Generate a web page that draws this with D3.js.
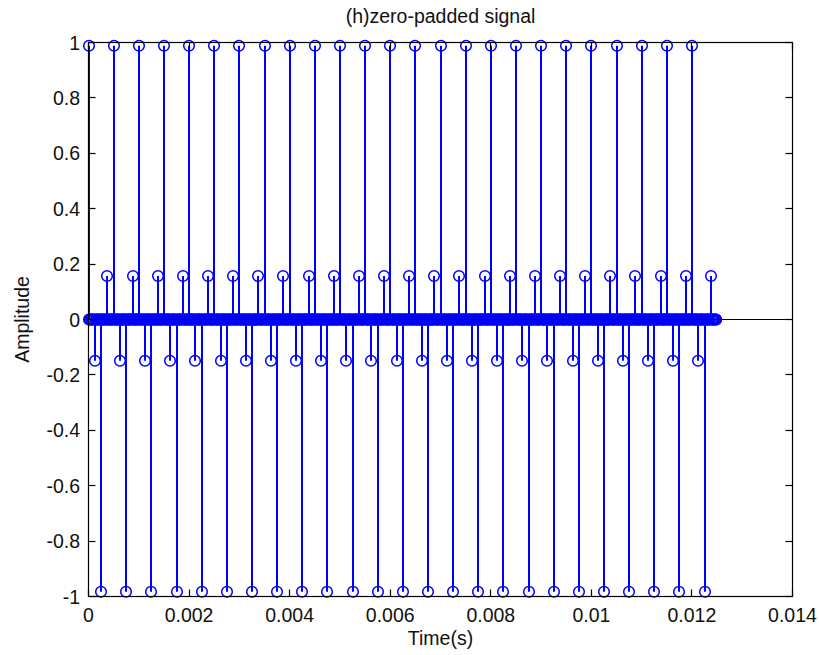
<!DOCTYPE html>
<meta charset="utf-8">
<style>
  body { margin: 0; background: #fff; }
  svg text { font-family: "Liberation Sans", Arial, sans-serif; fill: #111; }
</style>
<script src="https://d3js.org/d3.v7.min.js"></script>
<body>
<script>

// original samples (one every 8th point of the padded signal)
var samples = [
  0.988, -0.149, -0.983, 0.157,  0.988, -0.149, -0.983, 0.157,
  0.988, -0.149, -0.983, 0.157,  0.988, -0.149, -0.983, 0.157,
  0.988, -0.149, -0.983, 0.157,  0.988, -0.149, -0.983, 0.157,
  0.988, -0.149, -0.983, 0.157,  0.988, -0.149, -0.983, 0.157,
  0.988, -0.149, -0.983, 0.157,  0.988, -0.149, -0.983, 0.157,
  0.988, -0.149, -0.983, 0.157,  0.988, -0.149, -0.983, 0.157,
  0.988, -0.149, -0.983, 0.157,  0.988, -0.149, -0.983, 0.157,
  0.988, -0.149, -0.983, 0.157,  0.988, -0.149, -0.983, 0.157,
  0.988, -0.149, -0.983, 0.157,  0.988, -0.149, -0.983, 0.157,
  0.988, -0.149, -0.983, 0.157,  0.988, -0.149, -0.983, 0.157,
  0.988, -0.149, -0.983, 0.157,  0.988, -0.149, -0.983, 0.157,
  0.988, -0.149, -0.983, 0.157,  0.988, -0.149, -0.983, 0.157,
  0.988, -0.149, -0.983, 0.157
]
var padFactor = 8          // zeros stuffed between samples
var fsPadded = 64000       // sample rate after padding (Hz)

var xTicks = [0, 0.002, 0.004, 0.006, 0.008, 0.01, 0.012, 0.014]
var xTickLabels = ["0", "0.002", "0.004", "0.006", "0.008", "0.01", "0.012", "0.014"]
var yTicks = [-1, -0.8, -0.6, -0.4, -0.2, 0, 0.2, 0.4, 0.6, 0.8, 1]
var yTickLabels = ["-1", "-0.8", "-0.6", "-0.4", "-0.2", "0", "0.2", "0.4", "0.6", "0.8", "1"]

// build padded signal: each sample followed by padFactor-1 zeros
var padded = []
samples.forEach(function(v, i) {
  for (var k = 0; k < padFactor; k++) {
    var n = i * padFactor + k
    padded.push({ t: n / fsPadded, v: k === 0 ? v : 0 })
  }
})

var W = 819, H = 655
var plotL = 88.5, plotR = 792.5, plotT = 42.5, plotB = 596.5
var fontSize = 19.5
var tickLen = 7

var x = d3.scaleLinear().domain([0, 0.014]).range([plotL, plotR])
var y = d3.scaleLinear().domain([-1, 1]).range([plotB, plotT])

// snap to the pixel grid so lines stay crisp
function px(v) { return Math.round(v - 0.5) + 0.5 }

var svg = d3.select("body").append("svg")
    .attr("width", W)
    .attr("height", H)

// stems
var stems = svg.append("g")
stems.selectAll("line")
    .data(padded)
    .enter()
    .append("line")
    .attr("x1", function(d) { return Math.round(x(d.t)) })
    .attr("x2", function(d) { return Math.round(x(d.t)) })
    .attr("y1", y(0))
    .attr("y2", function(d) { return y(d.v) })
    .attr("stroke", "#0000ff")
    .attr("stroke-width", 2)

// markers
stems.selectAll("circle")
    .data(padded)
    .enter()
    .append("circle")
    .attr("cx", function(d) { return Math.round(x(d.t)) })
    .attr("cy", function(d) { return y(d.v) })
    .attr("r", 5.3)
    .attr("fill", "none")
    .attr("stroke", "#0000ff")
    .attr("stroke-width", 1.5)

// baseline
svg.append("line")
    .attr("x1", plotL).attr("x2", plotR)
    .attr("y1", y(0)).attr("y2", y(0))
    .attr("stroke", "#000")
    .attr("stroke-width", 1.2)

// box
svg.append("rect")
    .attr("x", plotL).attr("y", plotT)
    .attr("width", plotR - plotL).attr("height", plotB - plotT)
    .attr("fill", "none")
    .attr("stroke", "#000")
    .attr("stroke-width", 1.2)

// ticks (inward, on all four sides)
var tk = svg.append("g").attr("stroke", "#000").attr("stroke-width", 1.2)
xTicks.forEach(function(t) {
  tk.append("line").attr("x1", px(x(t))).attr("x2", px(x(t))).attr("y1", plotB).attr("y2", plotB - tickLen)
  tk.append("line").attr("x1", px(x(t))).attr("x2", px(x(t))).attr("y1", plotT).attr("y2", plotT + tickLen)
})
yTicks.forEach(function(t) {
  tk.append("line").attr("x1", plotL).attr("x2", plotL + tickLen).attr("y1", px(y(t))).attr("y2", px(y(t)))
  tk.append("line").attr("x1", plotR).attr("x2", plotR - tickLen).attr("y1", px(y(t))).attr("y2", px(y(t)))
})

// tick labels
svg.append("g").selectAll("text")
    .data(xTicks)
    .enter()
    .append("text")
    .attr("x", function(d) { return x(d) })
    .attr("y", 622)
    .attr("text-anchor", "middle")
    .attr("font-size", fontSize)
    .text(function(d, i) { return xTickLabels[i] })

svg.append("g").selectAll("text")
    .data(yTicks)
    .enter()
    .append("text")
    .attr("x", 80)
    .attr("y", function(d) { return y(d) })
    .attr("dy", "0.36em")
    .attr("text-anchor", "end")
    .attr("font-size", fontSize)
    .text(function(d, i) { return yTickLabels[i] })

// title and axis labels
svg.append("text")
    .attr("x", (plotL + plotR) / 2)
    .attr("y", 23)
    .attr("text-anchor", "middle")
    .attr("font-size", fontSize)
    .text("(h)zero-padded signal")

svg.append("text")
    .attr("x", (plotL + plotR) / 2)
    .attr("y", 645)
    .attr("text-anchor", "middle")
    .attr("font-size", fontSize)
    .text("Time(s)")

svg.append("text")
    .attr("transform", "translate(29," + ((plotT + plotB) / 2) + ") rotate(-90)")
    .attr("text-anchor", "middle")
    .attr("font-size", fontSize)
    .text("Amplitude")

</script>
